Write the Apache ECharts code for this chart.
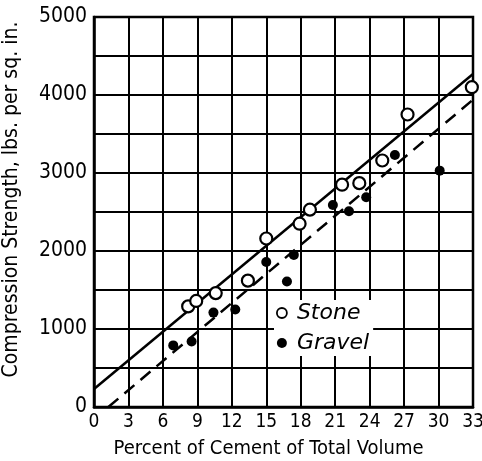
<!DOCTYPE html>
<html>
<head>
<meta charset="utf-8">
<script src="https://cdn.jsdelivr.net/npm/echarts@6/dist/echarts.min.js"></script>
<style>
  html, body { margin: 0; padding: 0; background: #fff; }
  #chart { width: 482px; height: 461px; }
</style>
</head>
<body>
<div id="chart"></div>
<script>
// percent of cement vs compression strength
const stonePoints = [
  [8.2, 1290], [8.9, 1360], [10.6, 1460], [13.4, 1620], [15.0, 2160], [17.9, 2350],
  [18.8, 2530], [21.6, 2850], [23.1, 2870], [25.1, 3160], [27.3, 3750], [32.9, 4100]
];
const gravelPoints = [
  [6.9, 790], [8.5, 840], [10.4, 1210], [12.3, 1250], [15.0, 1860], [16.8, 1610],
  [17.4, 1950], [20.8, 2590], [22.2, 2510], [23.7, 2690], [26.2, 3230], [30.1, 3030]
];
// fitted lines, end points
const stoneLine = [[0, 230], [33, 4270]];
const gravelLine = [[1.25, 0], [33, 3940]];

const yLabels = ['0', '1000', '2000', '3000', '4000', '5000'];
const seriesNames = ['Stone', 'Gravel'];

const font = "'DejaVu Sans Condensed', 'Liberation Sans Narrow', sans-serif";

let chart = echarts.init(document.getElementById('chart'));

const opts = {
  animation: false,
  grid: {
    left: 94,
    right: 9,
    top: 17,
    bottom: 54,
    outerBoundsMode: 'none',
    containLabel: false,
    show: true,
    borderColor: '#000',
    borderWidth: 2.5,
  },
  legend: {
    data: [
      { name: seriesNames[0], icon: 'circle', itemStyle: { color: '#fff', borderColor: '#000', borderWidth: 1.8 } },
      { name: seriesNames[1], icon: 'circle', itemStyle: { color: '#000' } },
    ],
    orient: 'vertical',
    left: 274,
    top: 300,
    itemWidth: 10,
    itemHeight: 10,
    itemGap: 8,
    backgroundColor: '#fff',
    padding: [2, 4, 2, 2],
    textStyle: {
      fontFamily: "'DejaVu Sans', sans-serif",
      fontStyle: 'italic',
      fontSize: 22,
      color: '#000',
      padding: [0, 0, 0, 5],
    },
  },
  xAxis: {
    type: 'value',
    min: 0,
    max: 33,
    interval: 3,
    name: 'Percent of Cement of Total Volume',
    nameLocation: 'middle',
    nameGap: 32,
    nameTextStyle: {
      fontFamily: font,
      fontSize: 20,
      color: '#000',
      padding: [0, 30, 0, 0],
    },
    axisLine: { lineStyle: { color: '#000', width: 2.5 } },
    axisTick: { show: false },
    axisLabel: {
      fontFamily: font,
      fontSize: 19,
      color: '#000',
      margin: 6,
    },
    splitLine: { lineStyle: { color: '#000', width: 2 } },
  },
  yAxis: {
    type: 'value',
    min: 0,
    max: 5000,
    interval: 500,
    name: 'Compression Strength, lbs. per sq. in.',
    nameLocation: 'middle',
    nameGap: 72,
    nameRotate: 90,
    nameTextStyle: {
      fontFamily: font,
      fontSize: 21,
      color: '#000',
      padding: [0, 0, 0, 25],
    },
    axisLine: { lineStyle: { color: '#000', width: 2.5 } },
    axisTick: { show: false },
    axisLabel: {
      fontFamily: font,
      fontSize: 21,
      color: '#000',
      margin: 7,
      formatter: (v) => (yLabels.indexOf(String(v)) >= 0 ? String(v) : ''),
    },
    splitLine: { lineStyle: { color: '#000', width: 2 } },
  },
  series: [
    {
      type: 'line',
      data: stoneLine,
      symbol: 'none',
      lineStyle: { color: '#000', width: 2.5 },
      z: 2,
    },
    {
      type: 'line',
      data: gravelLine,
      symbol: 'none',
      lineStyle: { color: '#000', width: 2.5, type: [13, 8] },
      z: 2,
    },
    {
      name: seriesNames[0],
      type: 'scatter',
      data: stonePoints,
      symbol: 'circle',
      symbolSize: 12,
      itemStyle: { color: '#fff', borderColor: '#000', borderWidth: 2.2, opacity: 1 },
      z: 3,
    },
    {
      name: seriesNames[1],
      type: 'scatter',
      data: gravelPoints,
      symbol: 'circle',
      symbolSize: 10,
      itemStyle: { color: '#000', opacity: 1 },
      z: 4,
    },
  ],
};

chart.setOption(opts);
</script>
</body>
</html>
